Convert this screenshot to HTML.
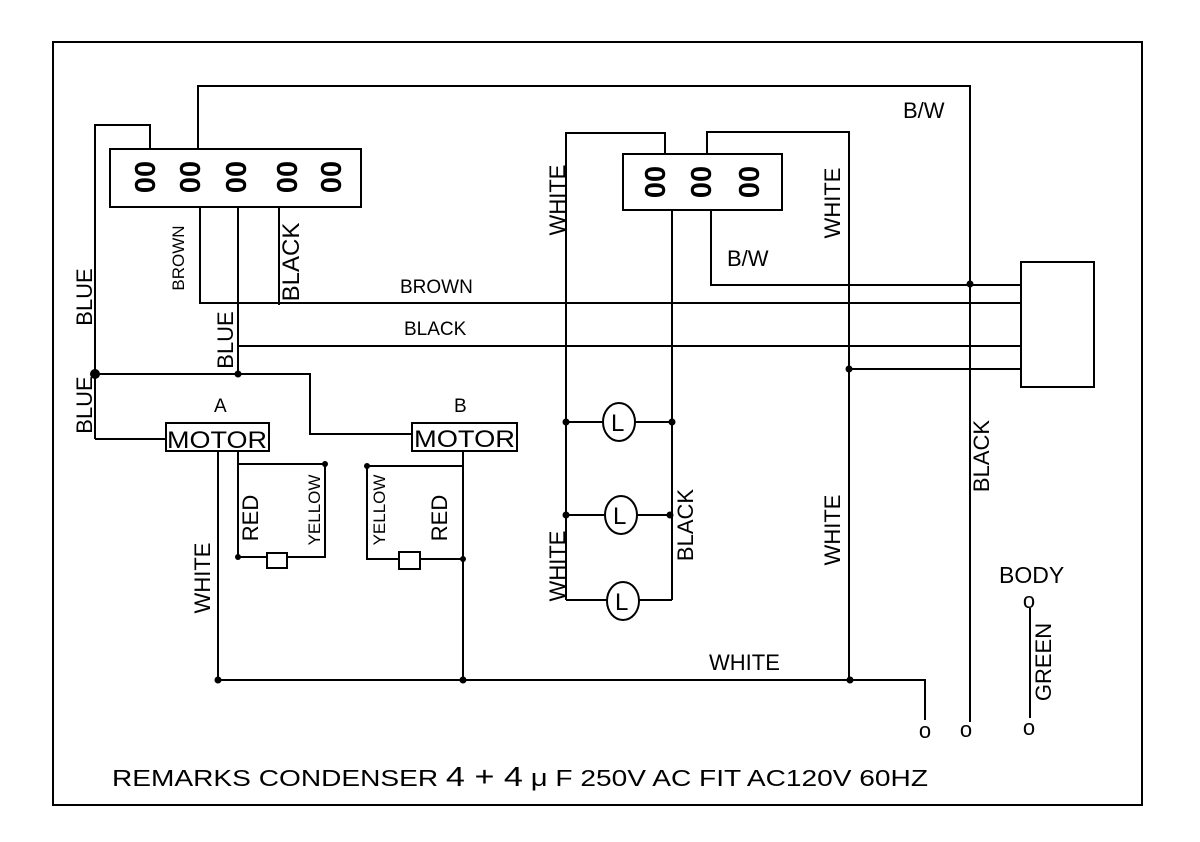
<!DOCTYPE html>
<html><head><meta charset="utf-8"><style>
html,body{margin:0;padding:0;background:#fff;}
svg{display:block;}
text{font-family:"Liberation Sans",sans-serif;fill:#000;}
</style></head><body>
<svg width="1200" height="842" viewBox="0 0 1200 842" xmlns="http://www.w3.org/2000/svg">
<g fill="none" stroke="#000" stroke-width="2">
<rect x="53" y="42" width="1089" height="763"/>
<rect x="110" y="149" width="251" height="58"/>
<polyline points="95,439 95,125 150,125 150,149"/>
<polyline points="198,149 198,86 970,86 970,722"/>
<polyline points="200,207 200,303 1021,303"/>
<polyline points="279,207 279,305"/>
<polyline points="238,207 238,374"/>
<line x1="238" y1="346" x2="1021" y2="346"/>
<polyline points="95,374 310,374 310,434 412,434"/>
<line x1="95" y1="439" x2="166" y2="439"/>
<rect x="166" y="423" width="103" height="28"/>
<rect x="412" y="423" width="105" height="28"/>
<line x1="218" y1="451" x2="218" y2="680"/>
<line x1="238" y1="451" x2="238" y2="557"/>
<polyline points="238,464 325,464 325,557 287,557"/>
<line x1="238" y1="557" x2="267" y2="557"/>
<rect x="267" y="553" width="20" height="15"/>
<polyline points="463,466 367,466 367,559 399,559"/>
<line x1="463" y1="451" x2="463" y2="680"/>
<line x1="420" y1="559" x2="463" y2="559"/>
<rect x="399" y="552" width="21" height="17"/>
<polyline points="218,680 925,680 925,720"/>
<rect x="623" y="154" width="159" height="56"/>
<polyline points="566,600 566,133 665,133 665,154"/>
<polyline points="707,154 707,132 849,132 849,680"/>
<line x1="672" y1="210" x2="672" y2="600"/>
<polyline points="711,210 711,285 1021,285"/>
<line x1="849" y1="369" x2="1021" y2="369"/>
<rect x="1021" y="262" width="73" height="125"/>
<line x1="566" y1="422" x2="603" y2="422"/><line x1="635" y1="422" x2="672" y2="422"/>
<ellipse cx="619" cy="422" rx="16" ry="19"/>
<line x1="566" y1="515" x2="605" y2="515"/><line x1="637" y1="515" x2="672" y2="515"/>
<ellipse cx="621" cy="515" rx="16" ry="19"/>
<polyline points="566,600 607,600"/><polyline points="639,600 672,600"/>
<ellipse cx="623" cy="601" rx="16" ry="19"/>
<line x1="1030" y1="608" x2="1030" y2="718"/>
</g>
<g fill="#000">
<circle cx="95" cy="374" r="5"/><circle cx="238" cy="374" r="3.5"/>
<circle cx="325" cy="464" r="3"/><circle cx="238" cy="557" r="3"/>
<circle cx="367" cy="466" r="3"/><circle cx="463" cy="559" r="3"/>
<circle cx="218" cy="680" r="3.5"/><circle cx="463" cy="680" r="3.5"/><circle cx="850" cy="680" r="3.5"/>
<circle cx="970" cy="284" r="3.5"/><circle cx="849" cy="369" r="3.5"/>
<circle cx="566" cy="422" r="3.5"/><circle cx="672" cy="422" r="3.5"/>
<circle cx="566" cy="515" r="3.5"/><circle cx="670" cy="515" r="3.5"/>
</g>
<g font-size="24">
<text x="611" y="431">L</text><text x="613" y="524">L</text><text x="615" y="610">L</text>
</g>
<g font-size="29" font-weight="bold" text-anchor="middle">
<text transform="translate(155,177) rotate(-90)">00</text>
<text transform="translate(200,177) rotate(-90)">00</text>
<text transform="translate(246,177) rotate(-90)">00</text>
<text transform="translate(297,177) rotate(-90)">00</text>
<text transform="translate(341,177) rotate(-90)">00</text>
<text transform="translate(665,182) rotate(-90)">00</text>
<text transform="translate(711,182) rotate(-90)">00</text>
<text transform="translate(759,182) rotate(-90)">00</text>
</g>
<g font-size="22" text-anchor="middle">
<text transform="translate(92,297) rotate(-90)">BLUE</text>
<text transform="translate(92,405) rotate(-90)">BLUE</text>
<text transform="translate(233,340) rotate(-90)">BLUE</text>
<text transform="translate(299,262) rotate(-90)" font-size="24">BLACK</text>
<text transform="translate(565,200) rotate(-90)">WHITE</text>
<text transform="translate(840,203) rotate(-90)">WHITE</text>
<text transform="translate(565,566) rotate(-90)">WHITE</text>
<text transform="translate(840,530) rotate(-90)">WHITE</text>
<text transform="translate(210,578) rotate(-90)">WHITE</text>
<text transform="translate(258,518) rotate(-90)">RED</text>
<text transform="translate(447,518) rotate(-90)">RED</text>
<text transform="translate(693,525) rotate(-90)">BLACK</text>
<text transform="translate(989,456) rotate(-90)">BLACK</text>
<text transform="translate(1051,662) rotate(-90)">GREEN</text>
</g>
<g font-size="17" text-anchor="middle">
<text transform="translate(184,258) rotate(-90)">BROWN</text>
<text transform="translate(320,510) rotate(-90)">YELLOW</text>
<text transform="translate(385,510) rotate(-90)">YELLOW</text>
</g>
<g font-size="19">
<text x="400" y="293">BROWN</text>
<text x="404" y="335">BLACK</text>
<text x="214" y="412">A</text>
<text x="454" y="412">B</text>
<text x="709" y="670" font-size="22">WHITE</text>
<text x="903" y="118" font-size="22">B/W</text>
<text x="727" y="266" font-size="22">B/W</text>
<text x="999" y="583" font-size="23">BODY</text>
</g>
<text x="167" y="448" font-size="24" textLength="100" lengthAdjust="spacingAndGlyphs">MOTOR</text>
<text x="414" y="447" font-size="24" textLength="101" lengthAdjust="spacingAndGlyphs">MOTOR</text>
<g font-size="22" text-anchor="middle">
<text x="925" y="738">o</text><text x="966" y="737">o</text>
<text x="1029" y="608">o</text><text x="1029" y="735">o</text>
</g>
<text x="112" y="786" font-size="23" textLength="816" lengthAdjust="spacingAndGlyphs">REMARKS CONDENSER   <tspan font-size="28">4 + 4</tspan> <tspan font-size="24">μ</tspan> F 250V AC FIT AC120V 60HZ</text>
</svg>
</body></html>
